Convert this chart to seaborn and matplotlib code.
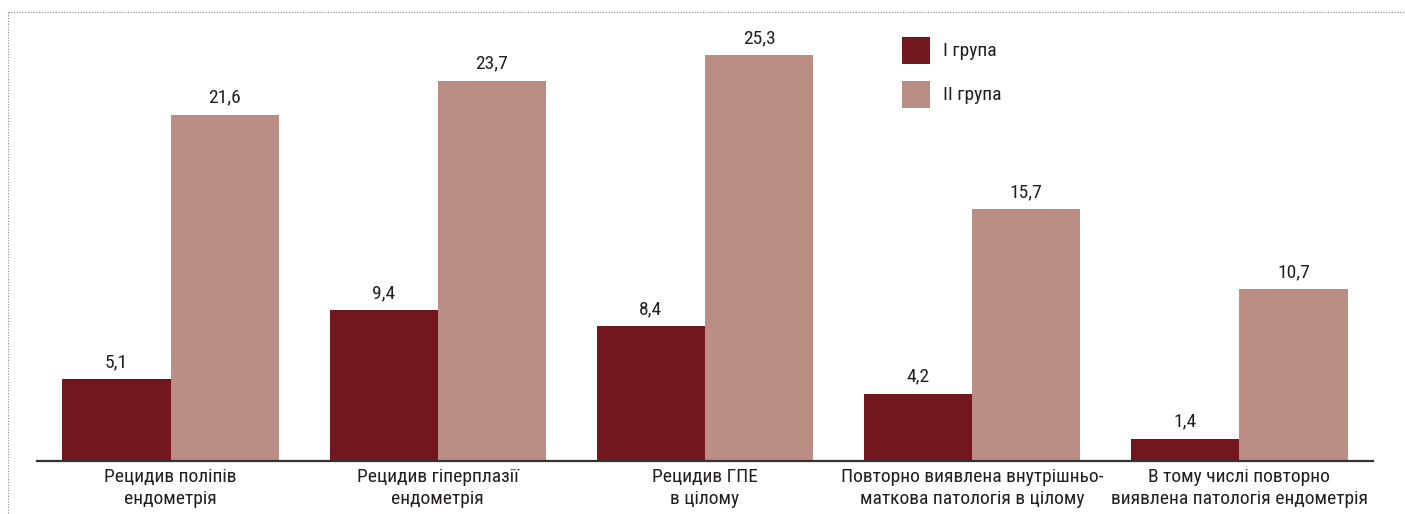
import matplotlib
matplotlib.use("Agg")
import matplotlib.pyplot as plt
import matplotlib.font_manager as fm
from matplotlib.lines import Line2D
from matplotlib.patches import Rectangle
import seaborn as sns
import pandas as pd
import numpy as np

categories = [
    "Рецидив поліпів\nендометрія",
    "Рецидив гіперплазії\nендометрія",
    "Рецидив ГПЕ\nв цілому",
    "Повторно виявлена внутрішньо-\nматкова патологія в цілому",
    "В тому числі повторно\nвиявлена патологія ендометрія",
]
group_names = ["I група", "II група"]
group1 = [5.1, 9.4, 8.4, 4.2, 1.4]
group2 = [21.6, 23.7, 25.3, 15.7, 10.7]
colors = ["#73171F", "#BA8E85"]

sns.set_theme(style="white")

# pick a condensed font if one is installed
entries = fm.fontManager.ttflist
names = {f.name for f in entries}
family = None
stretch = "normal"
for cand in ["Liberation Sans Narrow", "Roboto Condensed", "Open Sans Condensed",
             "Noto Sans Condensed", "DejaVu Sans Condensed"]:
    if cand in names:
        family = cand
        break
if family is None:
    for f in entries:
        if f.name == "DejaVu Sans" and str(f.stretch) in ("condensed", "semi-condensed", "75", "87.5"):
            family = "DejaVu Sans"
            stretch = "condensed"
            break
if family is None:
    for f in entries:
        if ("Condensed" in f.name or "Narrow" in f.name) and "Mono" not in f.name:
            family = f.name
            break
fs = 14
if family is None:
    family = "Roboto"
    fs = 12.5
plt.rcParams["font.family"] = [family, "DejaVu Sans"]
plt.rcParams["font.stretch"] = stretch

df = pd.DataFrame({
    "cat": categories * 2,
    "group": [group_names[0]] * 5 + [group_names[1]] * 5,
    "val": group1 + group2,
})

W, H = 1405, 514
fig = plt.figure(figsize=(W / 100, H / 100), dpi=100)
ax = fig.add_axes([37 / W, 53 / H, (1373 - 37) / W, (461 - 12) / H])

sns.barplot(data=df, x="cat", y="val", hue="group", order=categories,
            hue_order=group_names, palette=colors, width=0.81, gap=0,
            saturation=1, ax=ax, legend=False, linewidth=0, edgecolor="none")

for cont in ax.containers:
    ax.bar_label(cont, labels=[f"{v:.1f}".replace(".", ",") for v in cont.datavalues],
                 padding=6, fontsize=fs, color="#231F20")

ax.set_xlim(-0.5, 4.5)
ax.set_ylim(0, 28)
ax.set_xlabel("")
ax.set_ylabel("")
ax.set_yticks([])
for s in ["top", "right", "left"]:
    ax.spines[s].set_visible(False)
ax.spines["bottom"].set_color("#333333")
ax.spines["bottom"].set_linewidth(1.6)

ax.set_xticks(np.arange(5))
ax.set_xticklabels(categories, fontsize=fs, color="#231F20", linespacing=1.3)
ax.tick_params(axis="x", which="major", length=0, pad=5)
ax.set_xticks(np.arange(-0.5, 4.0, 1.0), minor=True)
ax.tick_params(axis="x", which="minor", length=5, width=1.2, color="#555555", direction="out")

# legend
for i, (name, c) in enumerate(zip(group_names, colors)):
    y0 = 37 + i * 44
    fig.patches.append(Rectangle((902 / W, 1 - (y0 + 27) / H), 28 / W, 27 / H,
                                 transform=fig.transFigure, facecolor=c, edgecolor="none"))
    fig.text(943 / W, 1 - (y0 + 14) / H, name, fontsize=fs, color="#231F20",
             va="center", ha="left")

# dotted page border (top and left)
fig.add_artist(Line2D([8 / W, 1], [1 - 12 / H, 1 - 12 / H], transform=fig.transFigure,
                      color="#888888", lw=0.8, linestyle=(0, (1, 1.5))))
fig.add_artist(Line2D([8 / W, 8 / W], [1 - 12 / H, 0], transform=fig.transFigure,
                      color="#888888", lw=0.8, linestyle=(0, (1, 1.5))))

fig.savefig("out.png", dpi=100)
